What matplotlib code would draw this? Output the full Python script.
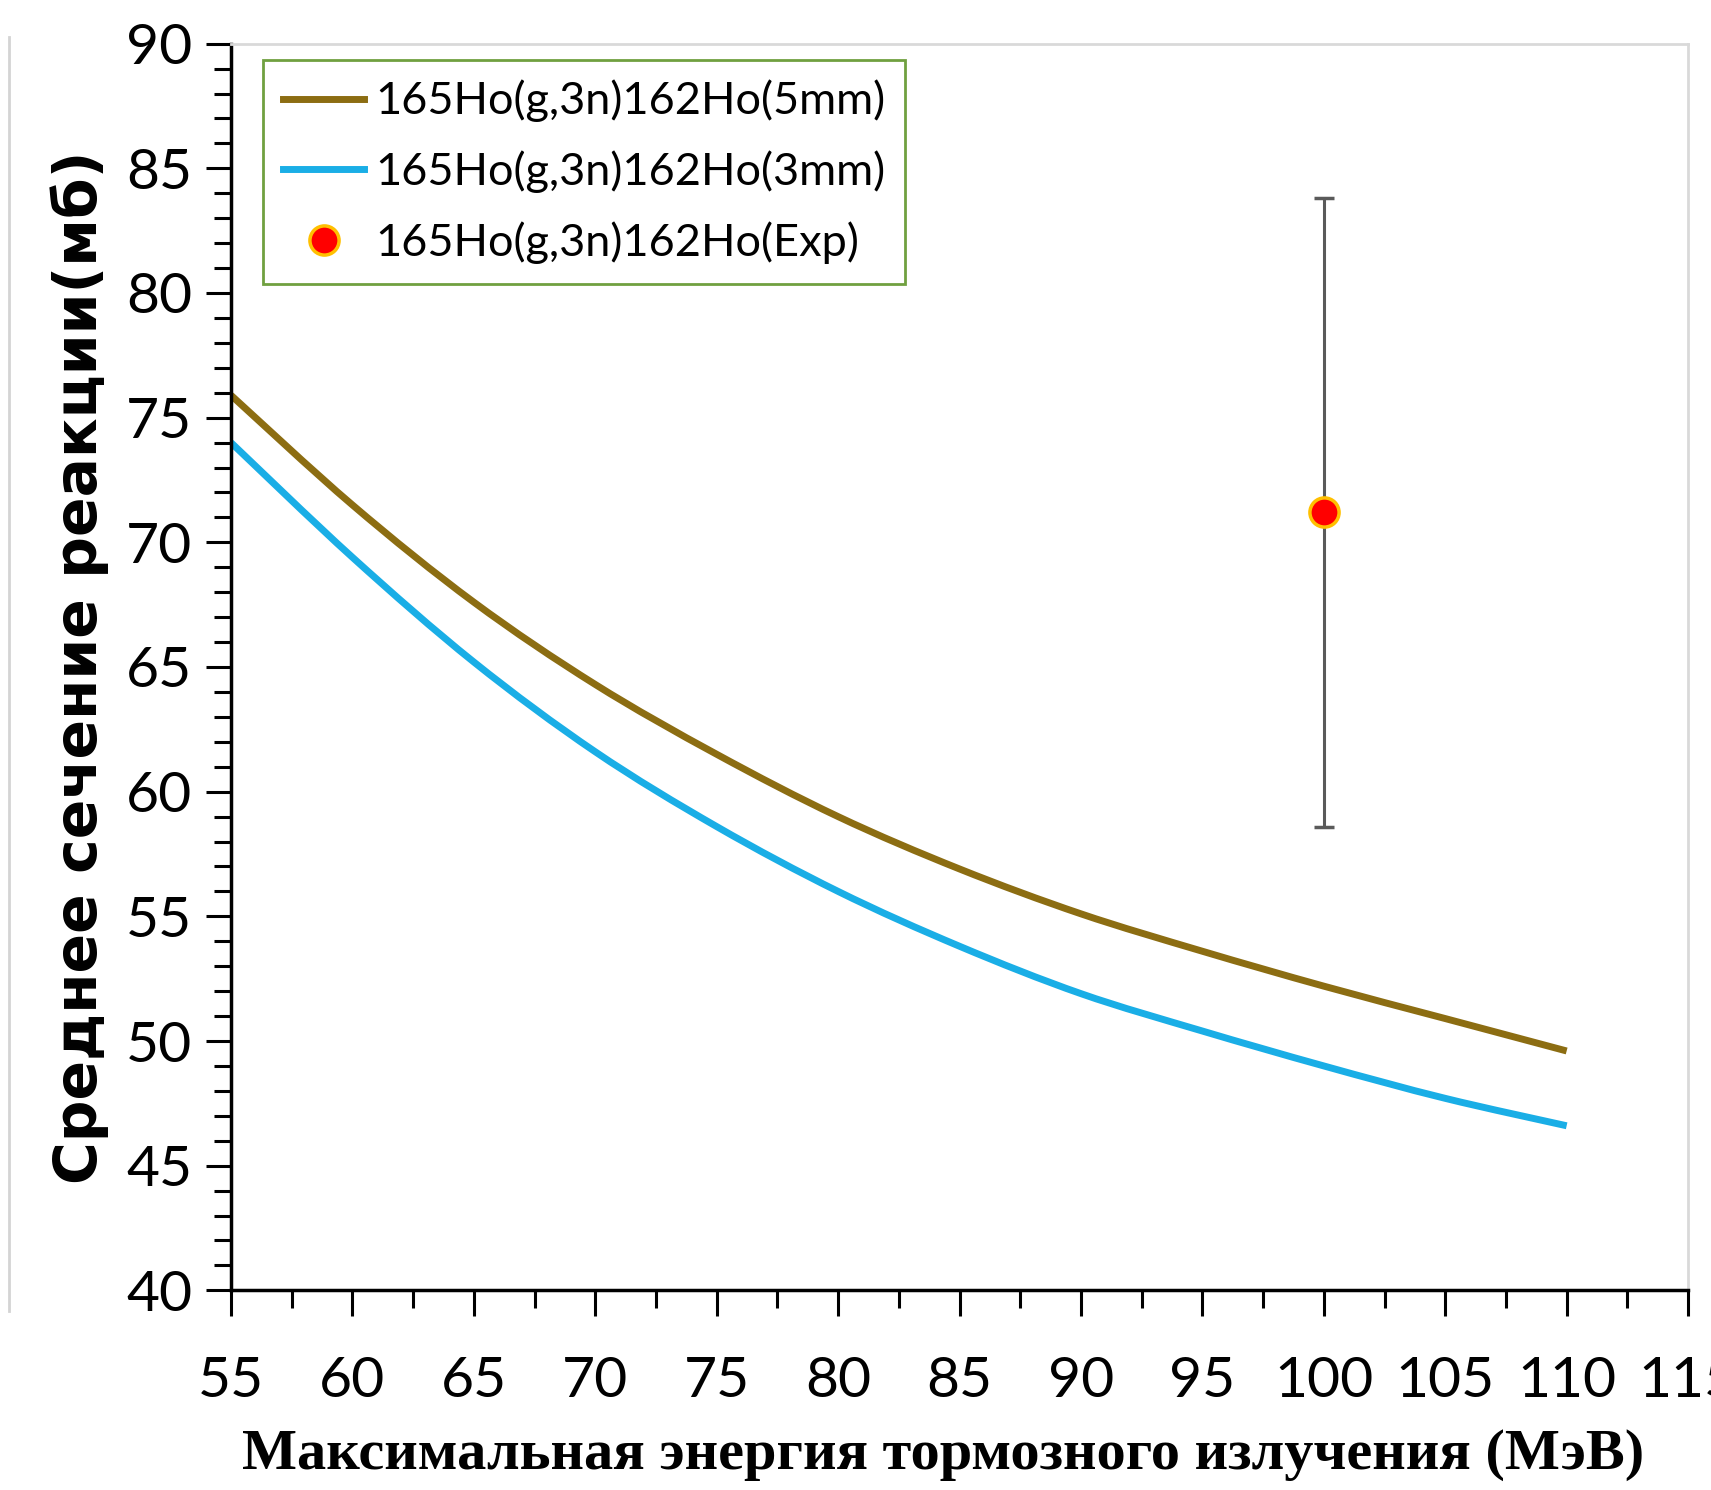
import numpy as np
from matplotlib import pyplot as plt
from matplotlib.ticker import MultipleLocator
from matplotlib.lines import Line2D
from matplotlib.path import Path
from matplotlib.patches import PathPatch

energy = [55, 60, 65, 70, 75, 80, 85, 90, 95, 100, 105, 110]
sigma_5mm = [75.9, 71.5, 67.6, 64.3, 61.5, 59.0, 56.9, 55.1, 53.6, 52.2, 50.9, 49.6]
sigma_3mm = [74.0, 69.4, 65.2, 61.6, 58.6, 56.0, 53.8, 51.9, 50.4, 49.0, 47.7, 46.6]
exp_energy = [100]
exp_sigma = [71.2]
exp_err = [12.6]

labels = ["165Ho(g,3n)162Ho(5mm)", "165Ho(g,3n)162Ho(3mm)", "165Ho(g,3n)162Ho(Exp)"]
c_5mm = '#8c6d12'
c_3mm = '#1aaee6'


def smooth_path(x, y):
    # excel-like smoothed line: bezier segments through the data points
    x = np.asarray(x, float)
    y = np.asarray(y, float)
    n = len(x)
    verts = [(x[0], y[0])]
    codes = [Path.MOVETO]
    for i in range(n - 1):
        j0 = max(i - 1, 0)
        j3 = min(i + 2, n - 1)
        c1 = (x[i] + (x[i + 1] - x[j0]) / 6, y[i] + (y[i + 1] - y[j0]) / 6)
        c2 = (x[i + 1] - (x[j3] - x[i]) / 6, y[i + 1] - (y[j3] - y[i]) / 6)
        verts += [c1, c2, (x[i + 1], y[i + 1])]
        codes += [Path.CURVE4] * 3
    return Path(verts, codes)


fig = plt.figure(figsize=(17.11, 14.90), dpi=100)
ax = fig.add_axes([0.135, 0.134, 0.8516, 0.8367])

ax.add_patch(PathPatch(smooth_path(energy, sigma_5mm), fill=False,
                       edgecolor=c_5mm, lw=5, capstyle='butt'))
ax.add_patch(PathPatch(smooth_path(energy, sigma_3mm), fill=False,
                       edgecolor=c_3mm, lw=5, capstyle='butt'))
ax.plot([], [], color=c_5mm, lw=5, label=labels[0])
ax.plot([], [], color=c_3mm, lw=5, label=labels[1])
ax.errorbar(exp_energy, exp_sigma, yerr=exp_err, fmt='none', ecolor='#5a5a5a',
            elinewidth=2.2, capsize=7.5, capthick=2.5)
ax.plot(exp_energy, exp_sigma, 'o', color='#ff0000', mec='#ffc000', mew=2.5,
        ms=21, label=labels[2], ls='none')

ax.set_xlim(55, 115)
ax.set_ylim(40, 90)
ax.xaxis.set_major_locator(MultipleLocator(5))
ax.xaxis.set_minor_locator(MultipleLocator(2.5))
ax.yaxis.set_major_locator(MultipleLocator(5))
ax.yaxis.set_minor_locator(MultipleLocator(1))

for s in ['top', 'right']:
    ax.spines[s].set_color('#d9d9d9')
    ax.spines[s].set_linewidth(2)
for s in ['left', 'bottom']:
    ax.spines[s].set_color('black')
    ax.spines[s].set_linewidth(2.5)

ax.tick_params(axis='x', which='major', length=19, width=2.2, pad=28,
               labelsize=41, direction='out')
ax.tick_params(axis='x', which='minor', length=13, width=2.2, direction='out')
ax.tick_params(axis='y', which='major', length=18, width=2.2, pad=10,
               labelsize=41, direction='out')
ax.tick_params(axis='y', which='minor', length=12, width=2.2, direction='out')
for t in ax.get_xticklabels() + ax.get_yticklabels():
    t.set_family('Lato')

ax.set_ylabel("Среднее сечение реакции(мб)", fontsize=42, fontweight='bold',
              family='DejaVu Sans')
ax.yaxis.set_label_coords(-0.084, 0.5)
ax.set_xlabel("Максимальная энергия тормозного излучения (МэВ)", fontsize=42,
              fontweight='bold', family='Liberation Serif')
ax.xaxis.set_label_coords(0.489, -0.111)

leg = ax.legend(loc='upper left', bbox_to_anchor=(0.022, 0.987), fancybox=False,
                prop={'family': 'Lato', 'size': 32.5}, handlelength=1.8,
                borderpad=0.44, labelspacing=0.62, handletextpad=0.25,
                borderaxespad=0, framealpha=1)
leg.get_frame().set_edgecolor('#70a040')
leg.get_frame().set_linewidth(2)

# faint edge line left over from the original crop
fig.add_artist(Line2D([0.005, 0.005], [0.12, 0.975], transform=fig.transFigure,
                      color='#d4d4d4', lw=2))

fig.savefig('out.png', dpi=100)
